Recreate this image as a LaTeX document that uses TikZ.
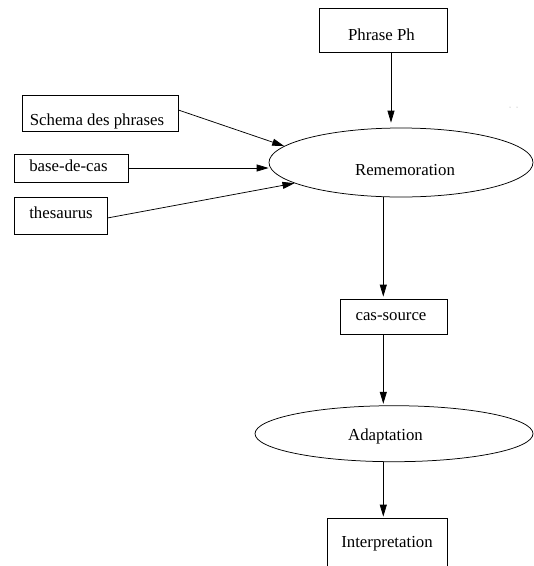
\documentclass[tikz,border=0pt]{standalone}
\usepackage{fontspec}
\setmainfont{Liberation Serif}
\usetikzlibrary{arrows.meta,shapes.geometric,calc}
\begin{document}
\begin{tikzpicture}[x=1pt,y=-1pt,
  box/.style={draw, rectangle, inner sep=0pt, line width=0.75pt},
  oval/.style={draw, ellipse, inner sep=0pt, line width=0.75pt},
  txt/.style={font=\fontsize{16.8}{20}\selectfont, inner sep=0pt},
  arr/.style={line width=0.75pt, -{Triangle[length=12pt,width=7pt]}}]
\useasboundingbox (0,0) rectangle (534,566);
\clip (0,0) rectangle (534,566);
% nodes
\node[box, minimum width=128pt, minimum height=43.5pt,
  label={[txt,xshift=-1.5pt,yshift=-4pt]center:Phrase Ph}] (ph) at (383,30.25) {};
\node[box, minimum width=156pt, minimum height=36.5pt,
  label={[txt,xshift=-3pt,yshift=-7.5pt]center:Schema des phrases}] (schema) at (100,113.5) {};
\node[box, minimum width=114pt, minimum height=28pt,
  label={[txt,xshift=-2.5pt,yshift=2.5pt]center:base-de-cas}] (base) at (71,168) {};
\node[box, minimum width=93pt, minimum height=37pt,
  label={[txt,xshift=0.5pt,yshift=3pt]center:thesaurus}] (thes) at (60.5,215.5) {};
\node[oval, minimum width=264pt, minimum height=69pt,
  label={[txt,xshift=4pt,yshift=-8pt]center:Rememoration}] (rem) at (401,162.5) {};
\node[box, minimum width=107pt, minimum height=35pt,
  label={[txt,xshift=-2.5pt,yshift=0pt]center:cas-source}] (cas) at (393.5,316.5) {};
\node[oval, minimum width=278pt, minimum height=56pt,
  label={[txt,xshift=-8.5pt,yshift=-3pt]center:Adaptation}] (adapt) at (394,433.7) {};
\node[box, minimum width=120pt, minimum height=60pt,
  label={[txt,xshift=0pt,yshift=4.7pt]center:Interpretation}] (interp) at (387,548) {};
\coordinate (axis) at (383.3,0);
% connectors
\draw[arr, shorten >=5pt] ([xshift=8pt]ph.south) -- ([xshift=8pt]ph.south |- rem.north);
\draw[arr] ([yshift=3.5pt]schema.east) -- (rem.172);
\draw[arr] (base.east) -- (base.east -| rem.west);
\draw[arr] ([yshift=-2.5pt]thes.east) -- (rem.191);
\draw[arr, shorten >=2pt] (rem.south -| axis) -- (cas.north -| axis);
\draw[arr, shorten >=1.5pt] (cas.south -| axis) -- (adapt.north -| axis);
\draw[arr, shorten >=1pt] (adapt.south -| axis) -- (interp.north -| axis);
% stray marks
\fill[black!40] (510,107) circle (0.5pt);
\fill[black!40] (517,107) circle (0.5pt);
\end{tikzpicture}
\end{document}
